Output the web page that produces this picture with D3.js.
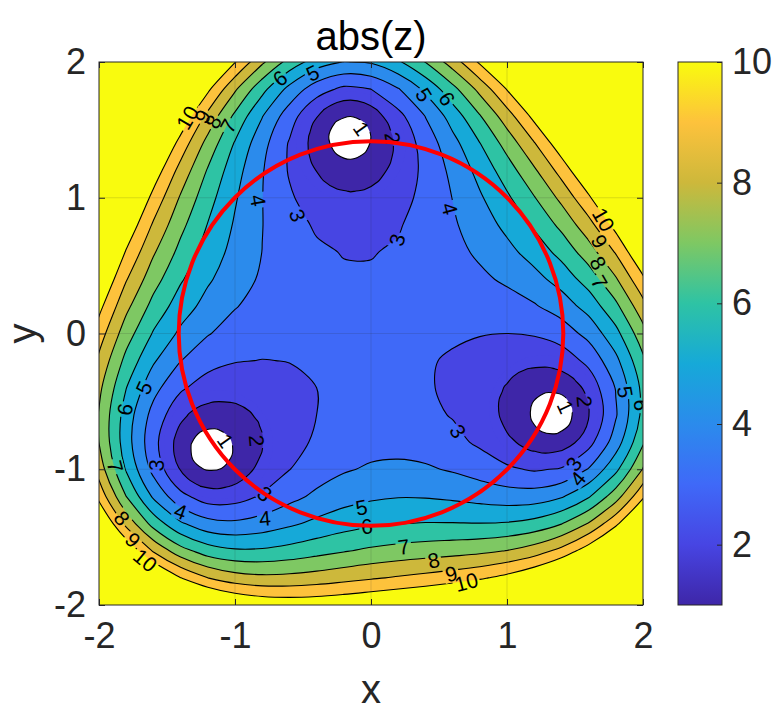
<!DOCTYPE html>
<html>
<head>
<meta charset="utf-8">
<script src="https://cdn.jsdelivr.net/npm/d3@7"></script>
<style>
  body { margin: 0; background: #fff; }
  text { font-family: "Liberation Sans", Arial, sans-serif; }
</style>
</head>
<body>
<div class="chart"></div>
<script>
// abs(z) on a 0.2 grid, rows go from y = 2.2 (top) down to y = -2.2
let gridX = [-2.2, -2.0, -1.8, -1.6, -1.4, -1.2, -1.0, -0.8, -0.6, -0.4, -0.2, 0, 0.2, 0.4, 0.6, 0.8, 1.0, 1.2, 1.4, 1.6, 1.8, 2.0, 2.2]
let gridY = [2.2, 2.0, 1.8, 1.6, 1.4, 1.2, 1.0, 0.8, 0.6, 0.4, 0.2, 0, -0.2, -0.4, -0.6, -0.8, -1.0, -1.2, -1.4, -1.6, -1.8, -2.0, -2.2]
let absZ = [
    [14, 14, 14, 14, 14, 14, 12.56, 10.67, 9.16, 8.12, 7.62, 7.71, 8.35, 9.43, 10.86, 12.58, 14, 14, 14, 14, 14, 14, 14],
    [14, 14, 14, 14, 14, 12.23, 10.05, 8.17, 6.62, 5.50, 4.96, 5.10, 5.85, 7.02, 8.47, 10.15, 12.04, 14, 14, 14, 14, 14, 14],
    [14, 14, 14, 14, 12.55, 10.21, 8.14, 6.30, 4.70, 3.44, 2.78, 3.00, 3.93, 5.21, 6.68, 8.29, 10.05, 12.0, 14, 14, 14, 14, 14],
    [14, 14, 14, 13.3, 10.87, 8.71, 6.78, 5.04, 3.45, 2.03, 1.05, 1.48, 2.68, 4.02, 5.43, 6.92, 8.53, 10.29, 12.26, 14, 14, 14, 14],
    [14, 14, 14, 11.82, 9.60, 7.65, 5.91, 4.34, 2.91, 1.59, 0.46, 1.03, 2.21, 3.42, 4.66, 5.97, 7.38, 8.93, 10.68, 12.69, 14, 14, 14],
    [14, 14, 12.97, 10.64, 8.64, 6.91, 5.40, 4.07, 2.91, 1.96, 1.42, 1.62, 2.33, 3.24, 4.24, 5.32, 6.51, 7.84, 9.37, 11.16, 13.27, 14, 14],
    [14, 14, 11.81, 9.68, 7.89, 6.38, 5.10, 4.02, 3.13, 2.48, 2.16, 2.24, 2.65, 3.27, 4.02, 4.87, 5.83, 6.94, 8.25, 9.83, 11.73, 14, 14],
    [14, 13.14, 10.80, 8.87, 7.27, 5.96, 4.89, 4.02, 3.35, 2.89, 2.66, 2.68, 2.93, 3.34, 3.87, 4.50, 5.25, 6.15, 7.25, 8.63, 10.36, 12.49, 14],
    [14, 12.10, 9.91, 8.12, 6.70, 5.56, 4.68, 3.99, 3.48, 3.14, 2.96, 2.96, 3.10, 3.36, 3.72, 4.16, 4.71, 5.41, 6.32, 7.52, 9.09, 11.10, 13.60],
    [13.73, 11.16, 9.07, 7.40, 6.12, 5.14, 4.41, 3.87, 3.49, 3.25, 3.12, 3.10, 3.18, 3.33, 3.53, 3.81, 4.16, 4.67, 5.40, 6.44, 7.89, 9.81, 12.26],
    [12.82, 10.29, 8.25, 6.67, 5.49, 4.64, 4.05, 3.66, 3.41, 3.25, 3.17, 3.15, 3.18, 3.24, 3.32, 3.43, 3.59, 3.90, 4.46, 5.38, 6.76, 8.65, 11.08],
    [12.03, 9.49, 7.46, 5.91, 4.80, 4.06, 3.61, 3.36, 3.24, 3.18, 3.16, 3.16, 3.16, 3.14, 3.10, 3.04, 3.00, 3.09, 3.47, 4.31, 5.69, 7.62, 10.10],
    [11.38, 8.78, 6.70, 5.12, 4.02, 3.36, 3.05, 2.98, 3.02, 3.08, 3.14, 3.17, 3.15, 3.07, 2.92, 2.69, 2.41, 2.22, 2.42, 3.26, 4.74, 6.79, 9.38],
    [10.94, 8.23, 6.02, 4.33, 3.15, 2.53, 2.41, 2.56, 2.79, 3.00, 3.15, 3.22, 3.21, 3.09, 2.84, 2.46, 1.92, 1.34, 1.29, 2.33, 4.05, 6.28, 9.02],
    [10.78, 7.92, 5.54, 3.64, 2.25, 1.56, 1.69, 2.16, 2.63, 3.00, 3.24, 3.37, 3.37, 3.23, 2.94, 2.47, 1.78, 0.84, 0.39, 1.95, 3.90, 6.27, 9.12],
    [10.99, 7.98, 5.44, 3.32, 1.59, 0.43, 1.11, 1.98, 2.65, 3.14, 3.47, 3.65, 3.68, 3.56, 3.28, 2.83, 2.22, 1.58, 1.52, 2.63, 4.48, 6.86, 9.75],
    [11.67, 8.54, 5.90, 3.69, 1.93, 0.93, 1.41, 2.26, 2.98, 3.52, 3.90, 4.12, 4.19, 4.12, 3.90, 3.56, 3.16, 2.89, 3.09, 4.06, 5.75, 8.06, 10.95],
    [12.88, 9.68, 7.00, 4.84, 3.28, 2.50, 2.58, 3.11, 3.70, 4.20, 4.59, 4.83, 4.95, 4.93, 4.81, 4.63, 4.46, 4.48, 4.89, 5.89, 7.54, 9.81, 12.70],
    [14, 11.40, 8.71, 6.61, 5.13, 4.34, 4.18, 4.42, 4.82, 5.23, 5.58, 5.83, 5.98, 6.04, 6.04, 6.02, 6.08, 6.34, 6.95, 8.06, 9.74, 12.04, 14],
    [14, 13.67, 10.97, 8.87, 7.38, 6.49, 6.13, 6.14, 6.35, 6.64, 6.92, 7.17, 7.35, 7.49, 7.61, 7.76, 8.02, 8.49, 9.30, 10.56, 12.34, 14, 14],
    [14, 14, 13.74, 11.59, 10.02, 9.00, 8.45, 8.25, 8.29, 8.45, 8.67, 8.89, 9.10, 9.31, 9.55, 9.86, 10.31, 10.99, 11.99, 13.42, 14, 14, 14],
    [14, 14, 14, 14, 13.08, 11.91, 11.18, 10.80, 10.67, 10.71, 10.85, 11.05, 11.28, 11.56, 11.91, 12.37, 13.00, 13.87, 14, 14, 14, 14, 14],
    [14, 14, 14, 14, 14, 14, 14, 13.8, 13.5, 13.46, 13.5, 13.7, 13.9, 14, 14, 14, 14, 14, 14, 14, 14, 14, 14]
]

// finer 0.1 reading around the top hole; the same pocket sits every 120 degrees round the origin
let patchX = [-0.55, -0.45, -0.35, -0.25, -0.15, -0.05, 0.05, 0.15, 0.25]
let patchY = [1.85, 1.75, 1.65, 1.55, 1.45, 1.35, 1.25, 1.15, 1.05, 0.95]
let patchZ = [
    [4.78, 4.16, 3.68, 3.36, 3.25, 3.35, 3.65, 4.09, 4.64],
    [3.96, 3.31, 2.77, 2.40, 2.27, 2.41, 2.76, 3.27, 3.86],
    [3.33, 2.63, 2.02, 1.57, 1.40, 1.59, 2.04, 2.62, 3.25],
    [2.88, 2.16, 1.49, 0.90, 0.62, 0.96, 1.54, 2.17, 2.82],
    [2.63, 1.94, 1.26, 0.60, 0.08, 0.69, 1.32, 1.94, 2.57],
    [2.55, 1.93, 1.35, 0.87, 0.66, 0.91, 1.39, 1.92, 2.48],
    [2.60, 2.07, 1.62, 1.29, 1.17, 1.30, 1.62, 2.04, 2.51],
    [2.72, 2.29, 1.93, 1.69, 1.61, 1.69, 1.91, 2.23, 2.60],
    [2.87, 2.51, 2.23, 2.05, 1.98, 2.03, 2.19, 2.43, 2.73],
    [3.02, 2.72, 2.49, 2.35, 2.29, 2.32, 2.43, 2.61, 2.85]
]
let patchLevels = [1, 2]
let patchWindow = {x: -0.148, y: 1.38, r: 0.4}
let pocketTurns = [0, 120, 240]

let levels = [1, 2, 3, 4, 5, 6, 7, 8, 9, 10]
let axisTicks = [-2, -1, 0, 1, 2]
let colorTicks = [2, 4, 6, 8, 10]
let redCircle = {x: 0, y: 0, r: 1.414}

// parula, one colour per integer value 1..10
let parulaColors = ['#3e26a8', '#4745e3', '#3f69f8', '#2b8bec', '#16a9d8', '#2ec3a4', '#7ec863', '#cdb83b', '#fdc23c', '#f9fb0e']

let contourLabels = [
    {text: '10', x: -1.35, y: 1.59, angle: -60},
    {text: '9', x: -1.24, y: 1.60, angle: -60},
    {text: '8', x: -1.16, y: 1.56, angle: -60},
    {text: '7', x: -1.05, y: 1.53, angle: -60},
    {text: '6', x: -0.67, y: 1.88, angle: -38},
    {text: '5', x: -0.43, y: 1.92, angle: -25},
    {text: '4', x: -0.83, y: 0.98, angle: 80},
    {text: '3', x: -0.54, y: 0.87, angle: 70},
    {text: '1', x: -0.07, y: 1.51, angle: 55},
    {text: '2', x: 0.16, y: 1.44, angle: 80},
    {text: '5', x: 0.39, y: 1.76, angle: 58},
    {text: '6', x: 0.56, y: 1.73, angle: 55},
    {text: '4', x: 0.58, y: 0.92, angle: 75},
    {text: '3', x: 0.19, y: 0.69, angle: -75},
    {text: '10', x: 1.71, y: 0.84, angle: 60},
    {text: '9', x: 1.68, y: 0.68, angle: 60},
    {text: '8', x: 1.67, y: 0.52, angle: 60},
    {text: '7', x: 1.68, y: 0.38, angle: 60},
    {text: '5', x: -1.67, y: -0.40, angle: -65},
    {text: '6', x: -1.81, y: -0.56, angle: -80},
    {text: '7', x: -1.88, y: -0.98, angle: 75},
    {text: '8', x: -1.83, y: -1.36, angle: 50},
    {text: '9', x: -1.75, y: -1.52, angle: 45},
    {text: '10', x: -1.66, y: -1.67, angle: 40},
    {text: '3', x: -1.58, y: -0.97, angle: -85},
    {text: '1', x: -1.07, y: -0.79, angle: 55},
    {text: '2', x: -0.84, y: -0.79, angle: 85},
    {text: '3', x: -0.78, y: -1.18, angle: 40},
    {text: '4', x: -1.40, y: -1.31, angle: 20},
    {text: '4', x: -0.78, y: -1.36, angle: -5},
    {text: '5', x: -0.07, y: -1.28, angle: -10},
    {text: '6', x: -0.03, y: -1.42, angle: -5},
    {text: '3', x: 0.64, y: -0.72, angle: 58},
    {text: '1', x: 1.43, y: -0.54, angle: 65},
    {text: '2', x: 1.57, y: -0.50, angle: 85},
    {text: '5', x: 1.87, y: -0.43, angle: 80},
    {text: '6', x: 1.99, y: -0.53, angle: 90},
    {text: '3', x: 1.49, y: -0.96, angle: -55},
    {text: '4', x: 1.52, y: -1.07, angle: -50},
    {text: '7', x: 0.24, y: -1.57, angle: -8},
    {text: '8', x: 0.46, y: -1.67, angle: -12},
    {text: '9', x: 0.59, y: -1.77, angle: -15},
    {text: '10', x: 0.70, y: -1.83, angle: -15}
]

let outerWidth = 772
let outerHeight = 715
let plot = {left: 99, right: 643, top: 62, bottom: 605}
let bar = {left: 678, right: 722}
let axisColor = '#262626'
let tickFont = 36

let svg = d3.select('.chart')
    .append('svg')
    .attr('width', outerWidth)
    .attr('height', outerHeight)

svg.append('rect')
    .attr('width', outerWidth)
    .attr('height', outerHeight)
    .attr('fill', '#fff')

// Scales
let xScale = d3.scaleLinear().domain([-2, 2]).range([plot.left, plot.right])
let yScale = d3.scaleLinear().domain([-2, 2]).range([plot.bottom, plot.top])
let colorScale = d3.scaleLinear().domain(levels).range(parulaColors)
let barScale = d3.scaleLinear().domain([1, 10]).range([plot.bottom, plot.top])

let defs = svg.append('defs')
defs.append('clipPath').attr('id', 'plotClip')
    .append('rect')
    .attr('x', plot.left).attr('y', plot.top)
    .attr('width', plot.right - plot.left).attr('height', plot.bottom - plot.top)

function fullMask(id) {
    return defs.append('mask').attr('id', id)
        .attr('maskUnits', 'userSpaceOnUse')
        .attr('x', 0).attr('y', 0).attr('width', outerWidth).attr('height', outerHeight)
}

// contour rings -> svg path, sample i of a grid sits at i + 0.5 in d3.contours space
function ringPath(toX, toY) {
    let line = d3.line()
        .x(p => toX(p))
        .y(p => toY(p))
        .curve(d3.curveCatmullRomClosed.alpha(0.5))
    return c => c.coordinates
        .map(poly => poly.map(ring => line(ring.slice(0, -1))).join(''))
        .join('')
}

function turn(deg) {
    let a = deg * Math.PI / 180
    return p => [p[0] * Math.cos(a) - p[1] * Math.sin(a), p[0] * Math.sin(a) + p[1] * Math.cos(a)]
}

// Main contours
let nx = gridX.length
let ny = gridY.length
let contours = d3.contours().size([nx, ny]).thresholds(levels)(absZ.flat())
let gx = d3.scaleLinear().domain([0.5, nx - 0.5]).range([gridX[0], gridX[nx - 1]])
let gy = d3.scaleLinear().domain([0.5, ny - 0.5]).range([gridY[0], gridY[ny - 1]])
let mainPath = ringPath(p => xScale(gx(p[0])), p => yScale(gy(p[1])))

// Pocket contours
let pnx = patchX.length
let pny = patchY.length
let patchContours = d3.contours().size([pnx, pny]).thresholds(patchLevels)(patchZ.flat())
let px = d3.scaleLinear().domain([0.5, pnx - 0.5]).range([patchX[0], patchX[pnx - 1]])
let py = d3.scaleLinear().domain([0.5, pny - 0.5]).range([patchY[0], patchY[pny - 1]])
let windowR = xScale(patchWindow.r) - xScale(0)

// masks: holes for the pockets, gaps in lines for the labels
let holeMask = fullMask('holeMask')
holeMask.append('rect').attr('width', outerWidth).attr('height', outerHeight).attr('fill', '#fff')

let labelMask = fullMask('labelMask')
labelMask.append('rect').attr('width', outerWidth).attr('height', outerHeight).attr('fill', '#fff')
labelMask.selectAll('rect.gap')
    .data(contourLabels)
    .enter()
    .append('rect')
    .attr('class', 'gap')
    .attr('x', d => -(d.text.length * 11.5 + 4) / 2)
    .attr('y', -8.5)
    .attr('width', d => d.text.length * 11.5 + 4)
    .attr('height', 17)
    .attr('fill', '#000')
    .attr('transform', d => `translate(${xScale(d.x)}, ${yScale(d.y)}) rotate(${d.angle})`)

let field = svg.append('g').attr('clip-path', 'url(#plotClip)')
let mainLayer = field.append('g').attr('mask', 'url(#holeMask)')

mainLayer.selectAll('path.band')
    .data(contours)
    .enter()
    .append('path')
    .attr('class', 'band')
    .attr('d', mainPath)
    .attr('fill', d => colorScale(d.value))
    .attr('fill-rule', 'evenodd')

mainLayer.append('g')
    .attr('mask', 'url(#labelMask)')
    .selectAll('path')
    .data(contours)
    .enter()
    .append('path')
    .attr('d', mainPath)
    .attr('fill', 'none')
    .attr('stroke', '#000')
    .attr('stroke-width', 1.1)

pocketTurns.forEach((deg, i) => {
    let rot = turn(deg)
    let toData = p => rot([px(p[0]), py(p[1])])
    let pocketPath = ringPath(p => xScale(toData(p)[0]), p => yScale(toData(p)[1]))
    let c = rot([patchWindow.x, patchWindow.y])

    fullMask('pocket' + i)
        .append('circle')
        .attr('cx', xScale(c[0])).attr('cy', yScale(c[1])).attr('r', windowR)
        .attr('fill', '#fff')
    holeMask.append('circle')
        .attr('cx', xScale(c[0])).attr('cy', yScale(c[1])).attr('r', windowR - 3)
        .attr('fill', '#000')

    let pocket = field.append('g').attr('mask', `url(#pocket${i})`)
    pocket.selectAll('path.band')
        .data(patchContours)
        .enter()
        .append('path')
        .attr('class', 'band')
        .attr('d', pocketPath)
        .attr('fill', d => colorScale(d.value))
        .attr('fill-rule', 'evenodd')
    pocket.append('g')
        .attr('mask', 'url(#labelMask)')
        .selectAll('path')
        .data(patchContours)
        .enter()
        .append('path')
        .attr('d', pocketPath)
        .attr('fill', 'none')
        .attr('stroke', '#000')
        .attr('stroke-width', 1.1)
})

field.selectAll('text.clabel')
    .data(contourLabels)
    .enter()
    .append('text')
    .attr('class', 'clabel')
    .attr('transform', d => `translate(${xScale(d.x)}, ${yScale(d.y)}) rotate(${d.angle})`)
    .attr('text-anchor', 'middle')
    .attr('dy', '0.36em')
    .attr('font-size', 21)
    .attr('fill', '#000')
    .text(d => d.text)

// Grid lines
let inner = axisTicks.filter(t => t > -2 && t < 2)
field.selectAll('line.gx').data(inner).enter().append('line')
    .attr('x1', d => xScale(d)).attr('x2', d => xScale(d))
    .attr('y1', plot.top).attr('y2', plot.bottom)
    .attr('stroke', axisColor).attr('stroke-opacity', 0.15)
field.selectAll('line.gy').data(inner).enter().append('line')
    .attr('y1', d => yScale(d)).attr('y2', d => yScale(d))
    .attr('x1', plot.left).attr('x2', plot.right)
    .attr('stroke', axisColor).attr('stroke-opacity', 0.15)

// Red circle
field.append('circle')
    .attr('cx', xScale(redCircle.x))
    .attr('cy', yScale(redCircle.y))
    .attr('r', xScale(redCircle.r) - xScale(0))
    .attr('fill', 'none')
    .attr('stroke', '#ff0000')
    .attr('stroke-width', 4)

// Axes
let plainNumber = d => String(d)

function styleAxis(g) {
    g.select('.domain').remove()
    g.selectAll('line').attr('stroke', axisColor)
    g.selectAll('text').attr('fill', axisColor).attr('font-size', tickFont)
        .style('font-family', '"Liberation Sans", Arial, sans-serif')
}

svg.append('g')
    .attr('transform', `translate(0, ${plot.bottom})`)
    .call(d3.axisBottom(xScale).tickValues(axisTicks).tickFormat(plainNumber)
        .tickSize(-6).tickSizeOuter(0).tickPadding(17))
    .call(styleAxis)

svg.append('g')
    .attr('transform', `translate(0, ${plot.top})`)
    .call(d3.axisTop(xScale).tickValues(axisTicks).tickFormat('').tickSize(-6).tickSizeOuter(0))
    .call(styleAxis)

svg.append('g')
    .attr('transform', `translate(${plot.left}, 0)`)
    .call(d3.axisLeft(yScale).tickValues(axisTicks).tickFormat(plainNumber)
        .tickSize(-6).tickSizeOuter(0).tickPadding(13))
    .call(styleAxis)

svg.append('g')
    .attr('transform', `translate(${plot.right}, 0)`)
    .call(d3.axisRight(yScale).tickValues(axisTicks).tickFormat('').tickSize(-6).tickSizeOuter(0))
    .call(styleAxis)

svg.append('rect')
    .attr('x', plot.left).attr('y', plot.top)
    .attr('width', plot.right - plot.left).attr('height', plot.bottom - plot.top)
    .attr('fill', 'none').attr('stroke', axisColor).attr('stroke-width', 1)

// Colorbar
let grad = defs.append('linearGradient').attr('id', 'parula')
    .attr('x1', 0).attr('y1', 1).attr('x2', 0).attr('y2', 0)
grad.selectAll('stop')
    .data(levels)
    .enter()
    .append('stop')
    .attr('offset', d => (d - 1) / 9)
    .attr('stop-color', d => colorScale(d))

svg.append('rect')
    .attr('x', bar.left).attr('y', plot.top)
    .attr('width', bar.right - bar.left).attr('height', plot.bottom - plot.top)
    .attr('fill', 'url(#parula)')
    .attr('stroke', axisColor).attr('stroke-width', 1)

svg.append('g')
    .attr('transform', `translate(${bar.right}, 0)`)
    .call(d3.axisRight(barScale).tickValues(colorTicks).tickFormat(plainNumber)
        .tickSize(-5).tickSizeOuter(0).tickPadding(10))
    .call(styleAxis)

// Title and axis labels
svg.append('text')
    .attr('x', xScale(0)).attr('y', 50)
    .attr('text-anchor', 'middle')
    .attr('font-size', 40)
    .attr('fill', '#000')
    .text('abs(z)')

svg.append('text')
    .attr('x', xScale(0)).attr('y', 703)
    .attr('text-anchor', 'middle')
    .attr('font-size', 40)
    .attr('fill', axisColor)
    .text('x')

svg.append('text')
    .attr('transform', `translate(36, ${yScale(0)}) rotate(-90)`)
    .attr('text-anchor', 'middle')
    .attr('font-size', 40)
    .attr('fill', axisColor)
    .text('y')
</script>
</body>
</html>
